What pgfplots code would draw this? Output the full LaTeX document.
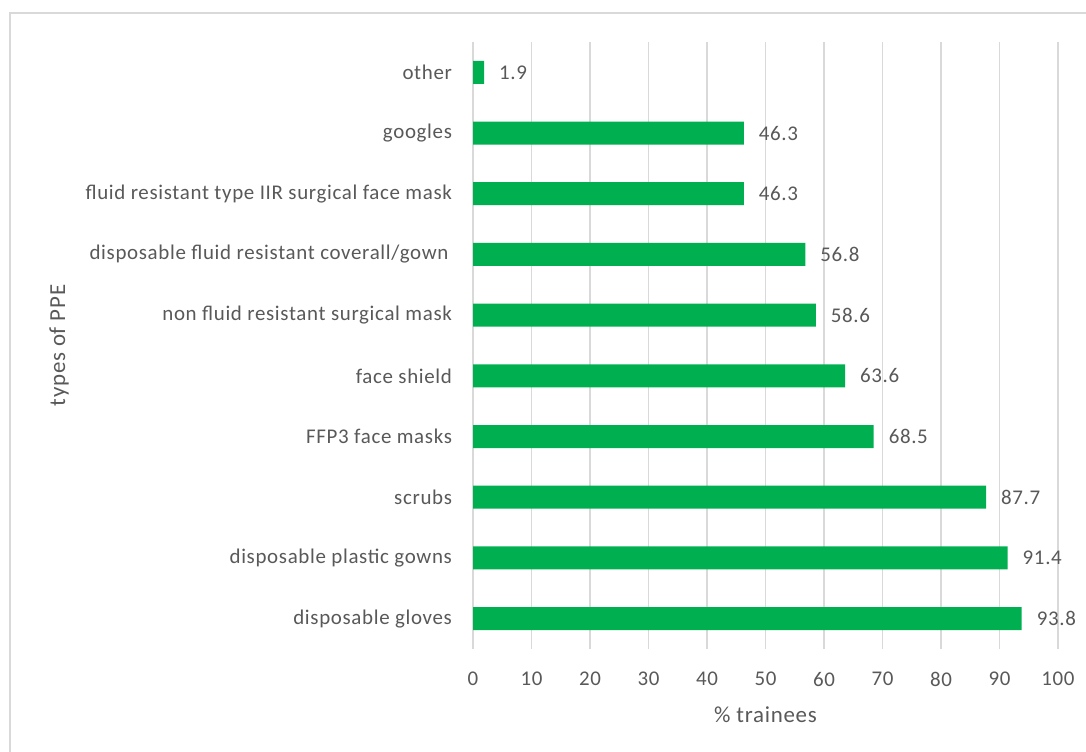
\documentclass[border=0pt]{standalone}
\usepackage{pgfplots}
\pgfplotsset{compat=1.18}
\usepackage{fontspec}
\setmainfont{Carlito}[LetterSpace=3.2]

\definecolor{barg}{HTML}{00B050}
\definecolor{txt}{HTML}{595959}
\definecolor{gridc}{HTML}{D9D9D9}

\begin{document}
\begin{tikzpicture}
\useasboundingbox (0,0) rectangle (543bp,376bp);
\fill[white] (0,0) rectangle (543bp,376bp);
% chart frame
\draw[gridc, line width=0.8bp] (5bp,0) -- (5bp,369.5bp) -- (543bp,369.5bp);

\begin{axis}[
  at={(236.5bp,51.5bp)}, anchor=south west,
  scale only axis,
  width=292.5bp, height=303.5bp,
  xbar, bar width=11.5bp,
  xmin=0, xmax=100, ymin=-0.5, ymax=9.5,
  xtick={0,10,...,100},
  ytick={0,...,9},
  yticklabels={disposable gloves, disposable plastic gowns, scrubs, FFP3 face masks, face shield\ , non fluid resistant surgical mask, disposable fluid resistant coverall/gown\,, fluid resistant type IIR surgical face mask, googles, other},
  major tick length=0pt,
  axis line style={draw=none},
  xmajorgrids, grid style={gridc, line width=0.8bp},
  /pgf/number format/assume math mode=true,
  font=\fontsize{10.5}{12.5}\selectfont,
  text=txt,
  tick label style={text=txt},
  xticklabel style={yshift=-8bp},
  yticklabel style={xshift=-7bp},
  xlabel={\% trainees},
  ylabel={types of PPE},
  label style={font=\fontsize{11.5}{13.5}\selectfont},
  x label style={at={(axis description cs:0.5,0)}, anchor=center, yshift=-33bp, text=txt},
  y label style={at={(axis description cs:0,0.5)}, anchor=center, yshift=207bp, text=txt},
  nodes near coords,
  nodes near coords style={text=txt, xshift=4bp,
    /pgf/number format/.cd, fixed, precision=1, fixed zerofill},
]
\addplot[fill=barg, draw=none] coordinates {
 (93.8,0) (91.4,1) (87.7,2) (68.5,3) (63.6,4) (58.6,5) (56.8,6) (46.3,7) (46.3,8) (1.9,9)
};
\end{axis}
\end{tikzpicture}
\end{document}
